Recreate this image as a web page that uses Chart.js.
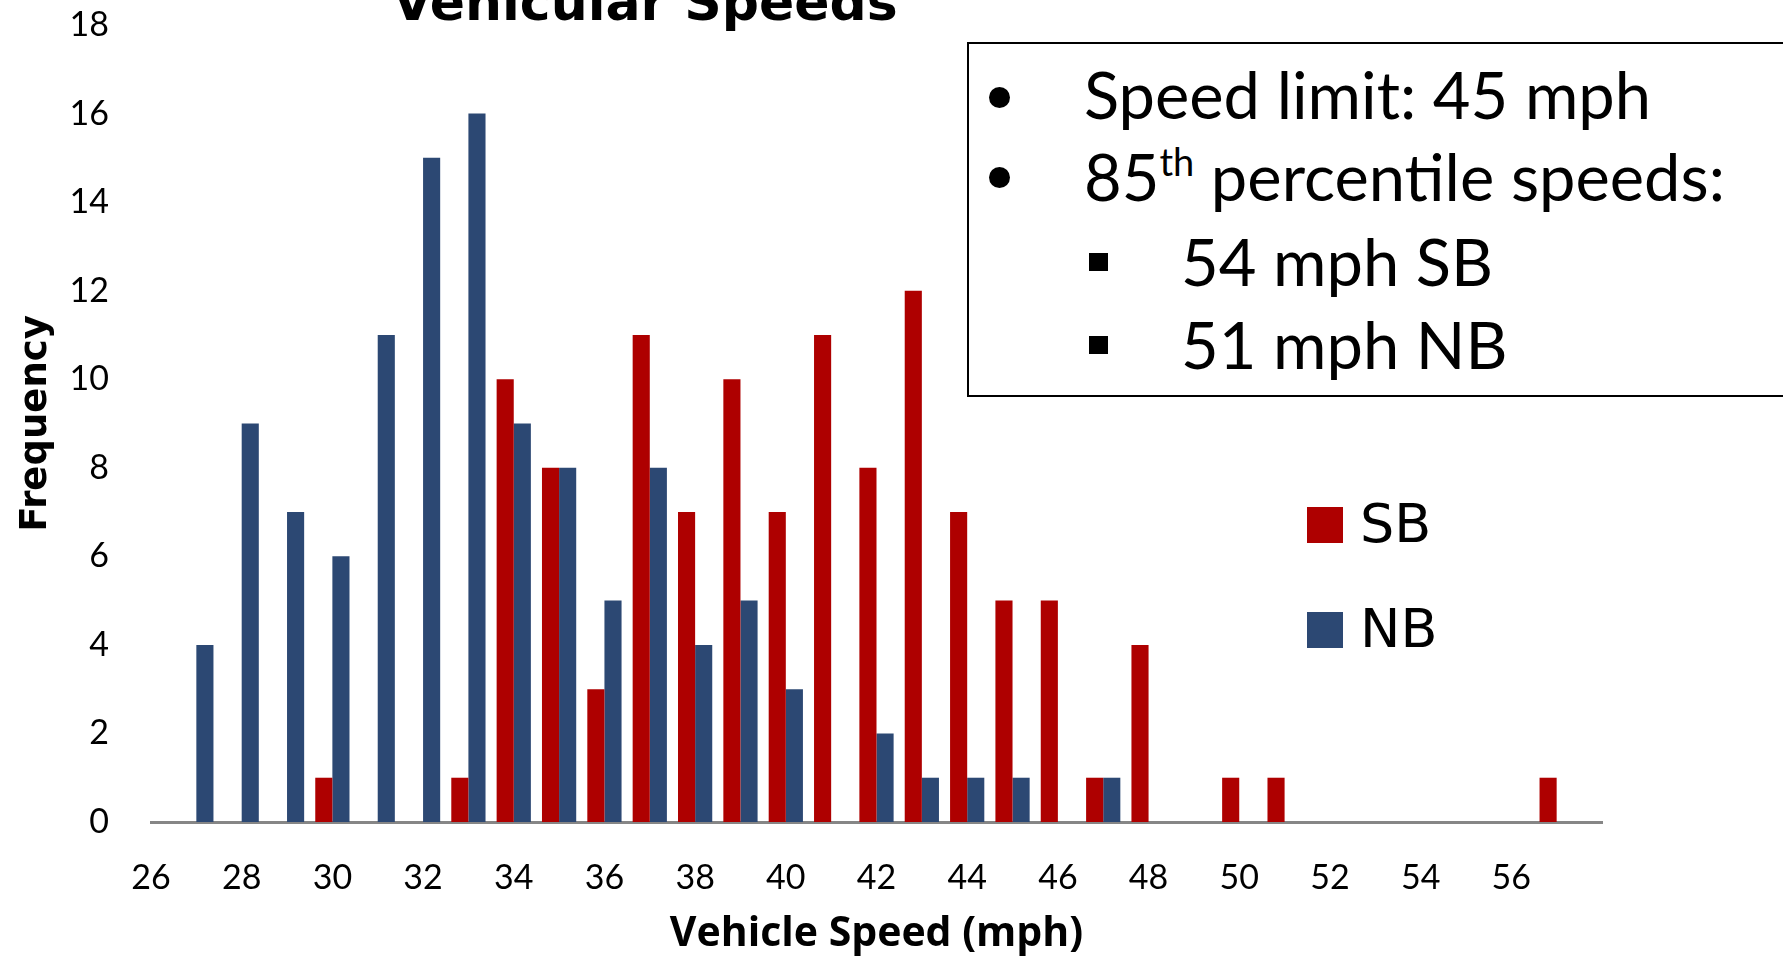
<!DOCTYPE html>
<html>
<head>
<meta charset="utf-8">
<script src="https://cdn.jsdelivr.net/npm/chart.js@4"></script>
<style>
    html, body { margin: 0; padding: 0; background: #fff; overflow: hidden; }
    #wrap { position: relative; width: 1783px; height: 959px; overflow: hidden; }
    #chart { position: absolute; left: 0; top: 0; }
    #title { position: absolute; left: 0; top: -24px; width: 1290px; text-align: center;
             font: bold 52px "DejaVu Sans"; line-height: 52px; white-space: nowrap; }
    #notes { position: absolute; left: 967px; top: 42px; width: 900px; height: 351px;
             border: 2px solid #000; background: #fff; }
    .line { position: absolute; font: 65px Lato; line-height: 65px; white-space: nowrap; color: #000; }
    .dot { position: absolute; width: 21px; height: 21px; border-radius: 50%; background: #000; }
    .sq { position: absolute; width: 19px; height: 18px; background: #000; }
    .legend-box { position: absolute; width: 36px; height: 36px; }
    .legend-text { position: absolute; font: 54px "DejaVu Sans"; line-height: 54px; white-space: nowrap; }
</style>
</head>
<body>
<div id="wrap">
    <canvas id="chart" width="1783" height="959"></canvas>
    <div id="title">Vehicular Speeds</div>
    <div id="notes"></div>
    <div id="legend"></div>
</div>
<script>
// vehicle speed bins (mph)
const speeds = [27, 28, 29, 30, 31, 32, 33, 34, 35, 36, 37, 38, 39, 40, 41, 42,
                43, 44, 45, 46, 47, 48, 49, 50, 51, 52, 53, 54, 55, 56, 57];
// southbound counts
const sbCounts = [0, 0, 0, 1, 0, 0, 1, 10, 8, 3, 11, 7, 10, 7, 11, 8,
                  12, 7, 5, 5, 1, 4, 0, 1, 1, 0, 0, 0, 0, 0, 1];
// northbound counts
const nbCounts = [4, 9, 7, 6, 11, 15, 16, 9, 8, 5, 8, 4, 5, 3, 0, 2,
                  1, 1, 1, 0, 1, 0, 0, 0, 0, 0, 0, 0, 0, 0, 0];
const xTickLabels = [26, 28, 30, 32, 34, 36, 38, 40, 42, 44, 46, 48, 50, 52, 54, 56];
const yTicks = [0, 2, 4, 6, 8, 10, 12, 14, 16, 18];

const noteLines = ['Speed limit: 45 mph', '85|th| percentile speeds:', '54 mph SB', '51 mph NB'];

const ctx = document.getElementById('chart').getContext('2d');

const chart = new Chart(ctx, {
    type: 'bar',
    data: {
        labels: speeds,
        datasets: [{
            label: 'SB',
            data: sbCounts,
            backgroundColor: '#AE0000'
        }, {
            label: 'NB',
            data: nbCounts,
            backgroundColor: '#2C4873'
        }]
    },
    options: {
        responsive: false,
        animation: false,
        categoryPercentage: 0.755,
        barPercentage: 1,
        layout: {
            padding: { top: 25, right: 181, bottom: 0, left: 0 }
        },
        scales: {
            x: {
                type: 'linear',
                min: 26,
                max: 58,
                offset: false,
                afterFit: scale => {
                    scale.height = 137;
                    scale.paddingLeft = 0;
                    scale.paddingRight = 0;
                },
                grid: { display: false, drawTicks: false },
                border: { display: true, color: '#868686', width: 3 },
                ticks: {
                    stepSize: 2,
                    autoSkip: false,
                    maxRotation: 0,
                    padding: 36,
                    color: '#000',
                    font: { family: 'Lato', size: 34 },
                    callback: value => xTickLabels.includes(value) ? String(value) : ''
                },
                title: {
                    display: true,
                    text: 'Vehicle Speed (mph)',
                    color: '#000',
                    font: { family: 'Open Sans', size: 41, weight: 'bold' },
                    padding: { top: 0, bottom: 0 }
                }
            },
            y: {
                min: 0,
                max: 18,
                afterFit: scale => {
                    scale.width = 151;
                    scale.paddingTop = 0;
                    scale.paddingBottom = 0;
                },
                afterBuildTicks: scale => { scale.ticks = yTicks.map(v => ({ value: v })); },
                grid: { display: false, drawTicks: false },
                border: { display: false },
                ticks: {
                    padding: 42,
                    color: '#000',
                    font: { family: 'Lato', size: 34 }
                },
                title: {
                    display: true,
                    text: 'Frequency',
                    color: '#000',
                    font: { family: 'DejaVu Sans', size: 37, weight: 'bold' },
                    padding: { top: 14, bottom: 0 }
                }
            }
        },
        plugins: {
            legend: { display: false },
            tooltip: { enabled: false }
        }
    }
});

// text box with bullets
const notes = document.getElementById('notes');
const lineTops = [18, 100, 185, 268];
const lineLefts = [115, 115, 212, 212];
const markTops = [43, 123, 209, 292];
noteLines.forEach((txt, i) => {
    const div = document.createElement('div');
    div.className = 'line';
    div.style.left = lineLefts[i] + 'px';
    div.style.top = lineTops[i] + 'px';
    const parts = txt.split('|');
    if (parts.length === 3) {
        div.innerHTML = parts[0] + '<span style="font-size:38px;position:relative;top:-25px">' +
            parts[1] + '</span>' + parts[2];
    } else {
        div.textContent = txt;
    }
    notes.appendChild(div);

    const mark = document.createElement('div');
    mark.className = i < 2 ? 'dot' : 'sq';
    mark.style.left = (i < 2 ? 20 : 120) + 'px';
    mark.style.top = markTops[i] + 'px';
    notes.appendChild(mark);
});

// legend from datasets
const legend = document.getElementById('legend');
const legendTops = [507, 612];
chart.data.datasets.forEach((ds, i) => {
    const box = document.createElement('div');
    box.className = 'legend-box';
    box.style.left = '1307px';
    box.style.top = legendTops[i] + 'px';
    box.style.background = ds.backgroundColor;
    legend.appendChild(box);

    const label = document.createElement('div');
    label.className = 'legend-text';
    label.style.left = '1360px';
    label.style.top = (legendTops[i] - 10) + 'px';
    label.textContent = ds.label;
    legend.appendChild(label);
});
</script>
</body>
</html>
